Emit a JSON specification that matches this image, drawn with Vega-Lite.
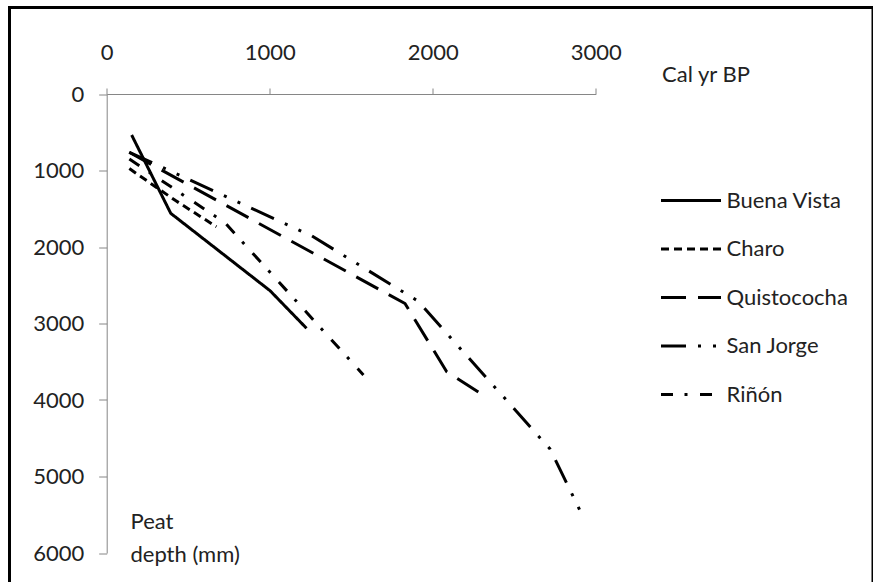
{
  "$schema": "https://vega.github.io/schema/vega-lite/v6.json",
  "width": 863.5,
  "height": 590,
  "padding": {"left": 9.5, "top": 7.5, "right": 0, "bottom": 0},
  "autosize": {"type": "none"},
  "background": "white",
  "config": {
    "view": {"stroke": "black", "strokeWidth": 3},
    "font": "Lato",
    "axis": {
      "domainColor": "#868686",
      "tickColor": "#868686",
      "labelFont": "Lato",
      "labelFontSize": 22,
      "labelColor": "#222222",
      "titleFont": "Lato",
      "titleFontSize": 22,
      "titleFontWeight": "normal",
      "titleColor": "#222222",
      "grid": false
    },
    "legend": {
      "labelFont": "Lato",
      "labelFontSize": 22,
      "labelColor": "#222222"
    }
  },
  "data": {
    "values": [
      {"site": "Buena Vista", "age": 153, "depth": 536},
      {"site": "Buena Vista", "age": 393, "depth": 1560},
      {"site": "Buena Vista", "age": 1002, "depth": 2571},
      {"site": "Buena Vista", "age": 1226, "depth": 3063},
      {"site": "Charo", "age": 139, "depth": 975},
      {"site": "Charo", "age": 420, "depth": 1390},
      {"site": "Charo", "age": 673, "depth": 1735},
      {"site": "Quistococha", "age": 138, "depth": 762},
      {"site": "Quistococha", "age": 1830, "depth": 2739},
      {"site": "Quistococha", "age": 2086, "depth": 3630},
      {"site": "Quistococha", "age": 2341, "depth": 3978},
      {"site": "San Jorge", "age": 139, "depth": 762},
      {"site": "San Jorge", "age": 1259, "depth": 1856},
      {"site": "San Jorge", "age": 1909, "depth": 2706},
      {"site": "San Jorge", "age": 2720, "depth": 4641},
      {"site": "San Jorge", "age": 2928, "depth": 5552},
      {"site": "Riñón", "age": 139, "depth": 850},
      {"site": "Riñón", "age": 727, "depth": 1686},
      {"site": "Riñón", "age": 1575, "depth": 3673}
    ]
  },
  "mark": {"type": "line", "color": "black", "strokeWidth": 3, "strokeJoin": "round"},
  "encoding": {
    "x": {
      "field": "age",
      "type": "quantitative",
      "scale": {"domain": [0, 3000], "range": [97.2, 586.2], "nice": false, "zero": false},
      "axis": {
        "orient": "top",
        "offset": -86.5,
        "values": [0, 1000, 2000, 3000],
        "tickSize": 6,
        "labelPadding": 24,
        "labelFlush": false,
        "labelOverlap": false,
        "format": "d",
        "title": "Cal yr BP",
        "titleX": 652,
        "titleY": -13,
        "titleAlign": "left",
        "titleBaseline": "alphabetic"
      }
    },
    "y": {
      "field": "depth",
      "type": "quantitative",
      "scale": {"domain": [0, 6000], "range": [86.5, 545.5], "nice": false, "zero": false},
      "axis": {
        "orient": "left",
        "offset": -97.2,
        "values": [0, 1000, 2000, 3000, 4000, 5000, 6000],
        "tickSize": 8,
        "labelPadding": 15,
        "labelOverlap": false,
        "format": "d",
        "title": ["Peat", "depth (mm)"],
        "titleAngle": 0,
        "titleX": 23.3,
        "titleY": 520.5,
        "titleAlign": "left",
        "titleBaseline": "alphabetic",
        "titleLineHeight": 33
      }
    },
    "strokeDash": {
      "field": "site",
      "type": "nominal",
      "scale": {
        "domain": ["Buena Vista", "Charo", "Quistococha", "San Jorge", "Riñón"],
        "range": [[1, 0], [8, 5], [25, 12], [25, 12, 3, 12, 3, 12], [12, 11.5, 3, 12.5]]
      },
      "legend": {
        "title": null,
        "orient": "none",
        "legendX": 650,
        "legendY": 178,
        "padding": 0,
        "symbolType": "stroke",
        "symbolSize": 3600,
        "symbolStrokeWidth": 3,
        "symbolStrokeColor": "black",
        "clipHeight": 30,
        "rowPadding": 18.5,
        "labelOffset": 4,
        "labelBaseline": "middle"
      }
    }
  }
}
